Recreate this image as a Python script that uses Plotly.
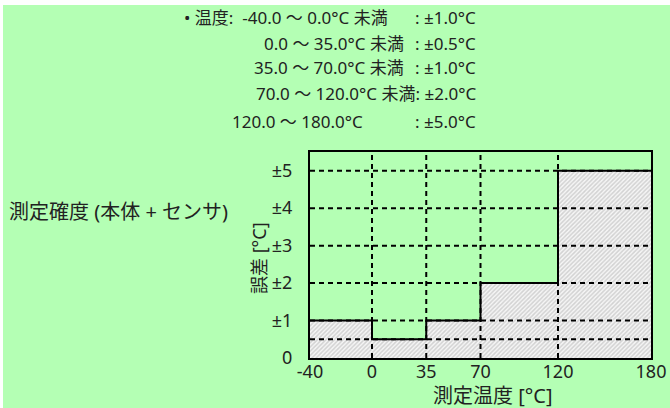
import plotly.graph_objects as go

# temperature band boundaries [°C] and accuracy [±°C] for each band
bounds = [-40, 0, 35, 70, 120, 180]
accuracy = [1.0, 0.5, 1.0, 2.0, 5.0]

x_ticks = [-40, 0, 35, 70, 120, 180]
x_ticktext = ["-40", "0", "35", "70", "120", "180"]
y_ticks = [0, 1, 2, 3, 4, 5]
y_ticktext = ["0", "±1", "±2", "±3", "±4", "±5"]
grid_y = [0.5, 1, 2, 3, 4, 5]

spec_left = [
    "• 温度:  -40.0 ～ 0.0°C 未満",
    "0.0 ～ 35.0°C 未満",
    "35.0 ～ 70.0°C 未満",
    "",
    "120.0 ～ 180.0°C",
]
spec_right = [": ±1.0°C", ": ±0.5°C", ": ±1.0°C", "70.0 ～ 120.0°C 未満: ±2.0°C", ": ±5.0°C"]

BG = "#b4ffb4"
FONT = "Noto Sans, Noto Sans CJK JP"
TXT = "#222222"

# page offset (white edge at top/left of the picture)
OX, OY = 3, 5
W, H = 670 - OX, 408 - OY
L, R, T, B = 310 - OX, 19, 152 - OY, 50
pw, ph = W - L - R, H - T - B


def px(x):
    return (x - OX - L) / pw


def py(y):
    return (H - B - (y - OY)) / ph


fig = go.Figure()
fig.add_trace(go.Scatter(
    x=bounds,
    y=accuracy + [accuracy[-1]],
    mode="lines",
    line=dict(shape="hv", color="black", width=2),
    fill="tozeroy",
    fillcolor="rgba(0,0,0,0)",
    fillpattern=dict(shape="/", size=3, solidity=0.5, fgcolor="#adadad", bgcolor="#f6f6f6"),
    hoverinfo="skip",
    showlegend=False,
))

dash = "5px,4px"
for xv in bounds[1:-1]:
    fig.add_shape(type="line", xref="x", yref="y", x0=xv, x1=xv, y0=0, y1=5.5,
                  line=dict(color="black", width=2, dash=dash), layer="above")
for yv in grid_y:
    fig.add_shape(type="line", xref="x", yref="y", x0=-40, x1=180, y0=yv, y1=yv,
                  line=dict(color="black", width=2, dash=dash), layer="above")

line_y = [17, 43, 68, 94, 121]
left_end = [390, 406, 406, 417, 365]
for txt, yy, xe in zip(spec_left, line_y, left_end):
    if txt:
        fig.add_annotation(text=txt, xref="paper", yref="paper", x=px(xe), y=py(yy),
                           xanchor="right", yanchor="middle", showarrow=False,
                           font=dict(size=17, color=TXT, family=FONT))
for txt, yy in zip(spec_right, line_y):
    fig.add_annotation(text=txt, xref="paper", yref="paper", x=px(478), y=py(yy),
                       xanchor="right", yanchor="middle", showarrow=False,
                       font=dict(size=17, color=TXT, family=FONT))

fig.add_annotation(text="測定確度 (本体 + センサ)", xref="paper", yref="paper", x=px(7), y=py(211),
                   xanchor="left", yanchor="middle", showarrow=False,
                   font=dict(size=20, color=TXT, family=FONT))
fig.add_annotation(text="誤差 [°C]", xref="paper", yref="paper", x=px(259), y=py(258),
                   xanchor="center", yanchor="middle", textangle=-90, showarrow=False,
                   font=dict(size=18, color=TXT, family=FONT))
fig.add_annotation(text="測定温度 [°C]", xref="paper", yref="paper", x=px(493), y=py(395),
                   xanchor="center", yanchor="middle", showarrow=False,
                   font=dict(size=20, color=TXT, family=FONT))

fig.update_xaxes(range=[-40, 180], tickvals=x_ticks, ticktext=x_ticktext, showgrid=False, zeroline=False,
                 showline=True, mirror=True, linecolor="black", linewidth=2,
                 ticks="", ticklabelstandoff=-4, automargin=False,
                 tickfont=dict(size=18, color=TXT, family=FONT))
fig.update_yaxes(range=[0, 5.5], tickvals=y_ticks, ticktext=y_ticktext, showgrid=False, zeroline=False,
                 showline=True, mirror=True, linecolor="black", linewidth=2,
                 ticks="", ticklabelstandoff=12, automargin=False,
                 tickfont=dict(size=18, color=TXT, family=FONT))

fig.update_layout(
    width=W, height=H,
    margin=dict(l=L, r=R, t=T, b=B),
    paper_bgcolor=BG, plot_bgcolor=BG,
    font=dict(family=FONT, color=TXT),
    showlegend=False,
)

fig.write_html("out.html", post_script=f"document.body.style.margin='{OY}px 0 0 {OX}px';")
